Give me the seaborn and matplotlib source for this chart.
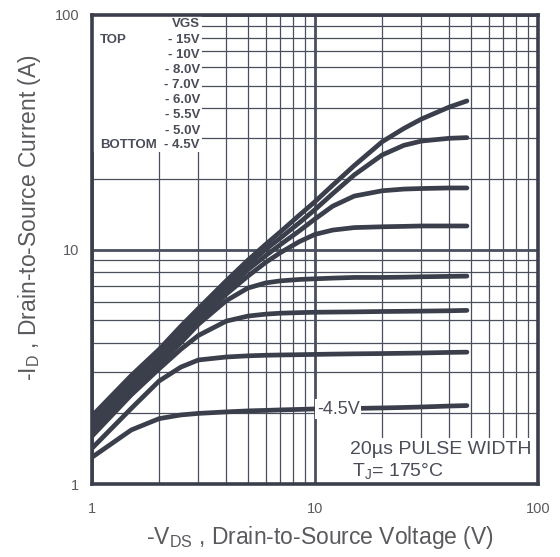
import numpy as np
import pandas as pd
import matplotlib
matplotlib.use("Agg")
import matplotlib.pyplot as plt
import seaborn as sns
from matplotlib.patches import Rectangle

# -VDS sample points (V)
vds = [1, 1.5, 2, 2.5, 3, 4, 5, 6, 7, 8.5, 10, 12, 15, 20, 25, 30, 40, 48]

# -ID (A) for each gate voltage
id_15v = [1.95, 2.9, 3.75, 4.7, 5.6, 7.35, 9.0, 10.5, 11.9, 14.0, 16.0, 18.8, 22.8, 28.8, 32.8, 36.0, 40.5, 43.0]
id_10v = [1.85, 2.75, 3.6, 4.5, 5.35, 7.0, 8.6, 10.0, 11.2, 13.0, 14.8, 17.3, 20.8, 25.3, 27.8, 29.0, 29.8, 30.0]
id_8v = [1.78, 2.65, 3.45, 4.3, 5.1, 6.7, 8.2, 9.4, 10.5, 12.0, 13.5, 15.3, 16.9, 17.8, 18.1, 18.2, 18.3, 18.3]
id_7v = [1.72, 2.58, 3.35, 4.15, 4.95, 6.45, 7.7, 8.8, 9.7, 10.8, 11.6, 12.1, 12.4, 12.5, 12.55, 12.6, 12.6, 12.6]
id_6v = [1.66, 2.5, 3.25, 4.0, 4.8, 6.05, 6.85, 7.2, 7.35, 7.45, 7.5, 7.55, 7.6, 7.6, 7.62, 7.65, 7.68, 7.7]
id_55v = [1.6, 2.4, 3.1, 3.75, 4.3, 4.95, 5.2, 5.3, 5.35, 5.38, 5.4, 5.41, 5.42, 5.44, 5.45, 5.46, 5.48, 5.5]
id_5v = [1.42, 2.1, 2.75, 3.15, 3.38, 3.48, 3.52, 3.54, 3.55, 3.56, 3.57, 3.58, 3.59, 3.6, 3.61, 3.62, 3.64, 3.65]
id_45v = [1.3, 1.7, 1.9, 1.97, 2.0, 2.03, 2.05, 2.06, 2.07, 2.08, 2.09, 2.09, 2.1, 2.11, 2.12, 2.13, 2.15, 2.16]

vgs_names = ["-15V", "-10V", "-8.0V", "-7.0V", "-6.0V", "-5.5V", "-5.0V", "-4.5V"]
legend_rows = ["VGS", "- 15V", "- 10V", "- 8.0V", "- 7.0V", "- 6.0V", "- 5.5V", "- 5.0V", "- 4.5V"]

series = [id_15v, id_10v, id_8v, id_7v, id_6v, id_55v, id_5v, id_45v]
df = pd.concat(
    [pd.DataFrame({"vds": vds, "id": s, "vgs": n}) for n, s in zip(vgs_names, series)],
    ignore_index=True,
)

sns.set_theme(style="white")
plt.rcParams["font.family"] = ["Liberation Sans", "DejaVu Sans"]
plt.rcParams["mathtext.default"] = "regular"

ink = "#3b3f4c"
grid_c = "#4a4f5e"
txt_c = "#5a5a5e"
note_c = "#4a4c58"

fig = plt.figure(figsize=(5.6, 5.57), dpi=100)
ax = fig.add_axes([92 / 560, 73 / 557, 446 / 560, 469 / 557])

sns.lineplot(data=df, x="vds", y="id", units="vgs", estimator=None,
             color=ink, linewidth=3.4, ax=ax, zorder=2, legend=False)

ax.set_xscale("log")
ax.set_yscale("log")
ax.set_xlim(1, 100)
ax.set_ylim(1, 100)

ax.set_xticks([1, 10, 100])
ax.set_yticks([1, 10, 100])
ax.set_xticklabels(["1", "10", "100"])
ax.set_yticklabels(["1", "10", "100"])
minor = [m * d for d in (1, 10) for m in range(2, 10)]
ax.set_xticks(minor, minor=True)
ax.set_yticks(minor, minor=True)
ax.tick_params(which="both", length=0)
ax.tick_params(axis="x", which="major", pad=13, labelsize=10.5, labelcolor=txt_c)
ax.tick_params(axis="y", which="major", pad=9, labelsize=10.5, labelcolor=txt_c)
ax.tick_params(which="minor", labelbottom=False, labelleft=False)
ax.set_axisbelow(True)
ax.grid(which="major", color=grid_c, linewidth=2.0)
ax.grid(which="minor", color=grid_c, linewidth=0.9)

for sp in ax.spines.values():
    sp.set_color(ink)
    sp.set_linewidth(2.6)

# white patches behind the legend block and the test-condition note
ax.add_patch(Rectangle((1, 26), 2.1, 74, facecolor="white", edgecolor="none", zorder=1))
ax.add_patch(Rectangle((13.2, 1), 86.8, 0.57, facecolor="white", edgecolor="none", zorder=1))

row_y = [24, 40, 55, 70, 85, 100, 115, 131, 145]
for t, py in zip(legend_rows, row_y):
    ax.text(0.242, (484 - py) / 469, t, transform=ax.transAxes, ha="right", va="center",
            fontsize=9.5, fontweight="bold", color=note_c, zorder=3)
ax.text(0.018, (484 - 40) / 469, "TOP", transform=ax.transAxes, ha="left", va="center",
        fontsize=9.5, fontweight="bold", color=note_c, zorder=3)
ax.text(0.018, (484 - 145) / 469, "BOTTOM", transform=ax.transAxes, ha="left", va="center",
        fontsize=9.5, fontweight="bold", color=note_c, zorder=3)

ax.text(12.7, 2.08, "-4.5V", ha="center", va="center", fontsize=13, color=note_c,
        zorder=4, bbox=dict(facecolor="white", edgecolor="none", pad=1.0))

ax.text(0.985, (484 - 450) / 469, "20\u00b5s PULSE WIDTH", transform=ax.transAxes,
        ha="right", va="center", fontsize=14, color=note_c, zorder=3)
ax.text(0.583, (484 - 471) / 469, "T$_J$= 175\u00b0C", transform=ax.transAxes,
        ha="left", va="center", fontsize=14, color=note_c, zorder=3)

ax.set_xlabel("-V$_{DS}$ , Drain-to-Source Voltage (V)", fontsize=16.5, color=txt_c)
ax.set_ylabel("-I$_D$ , Drain-to-Source Current (A)", fontsize=16.5, color=txt_c)
ax.xaxis.set_label_coords(0.511, -0.085)
ax.yaxis.set_label_coords(-0.11, 0.569)

fig.savefig("out.png", dpi=100)
